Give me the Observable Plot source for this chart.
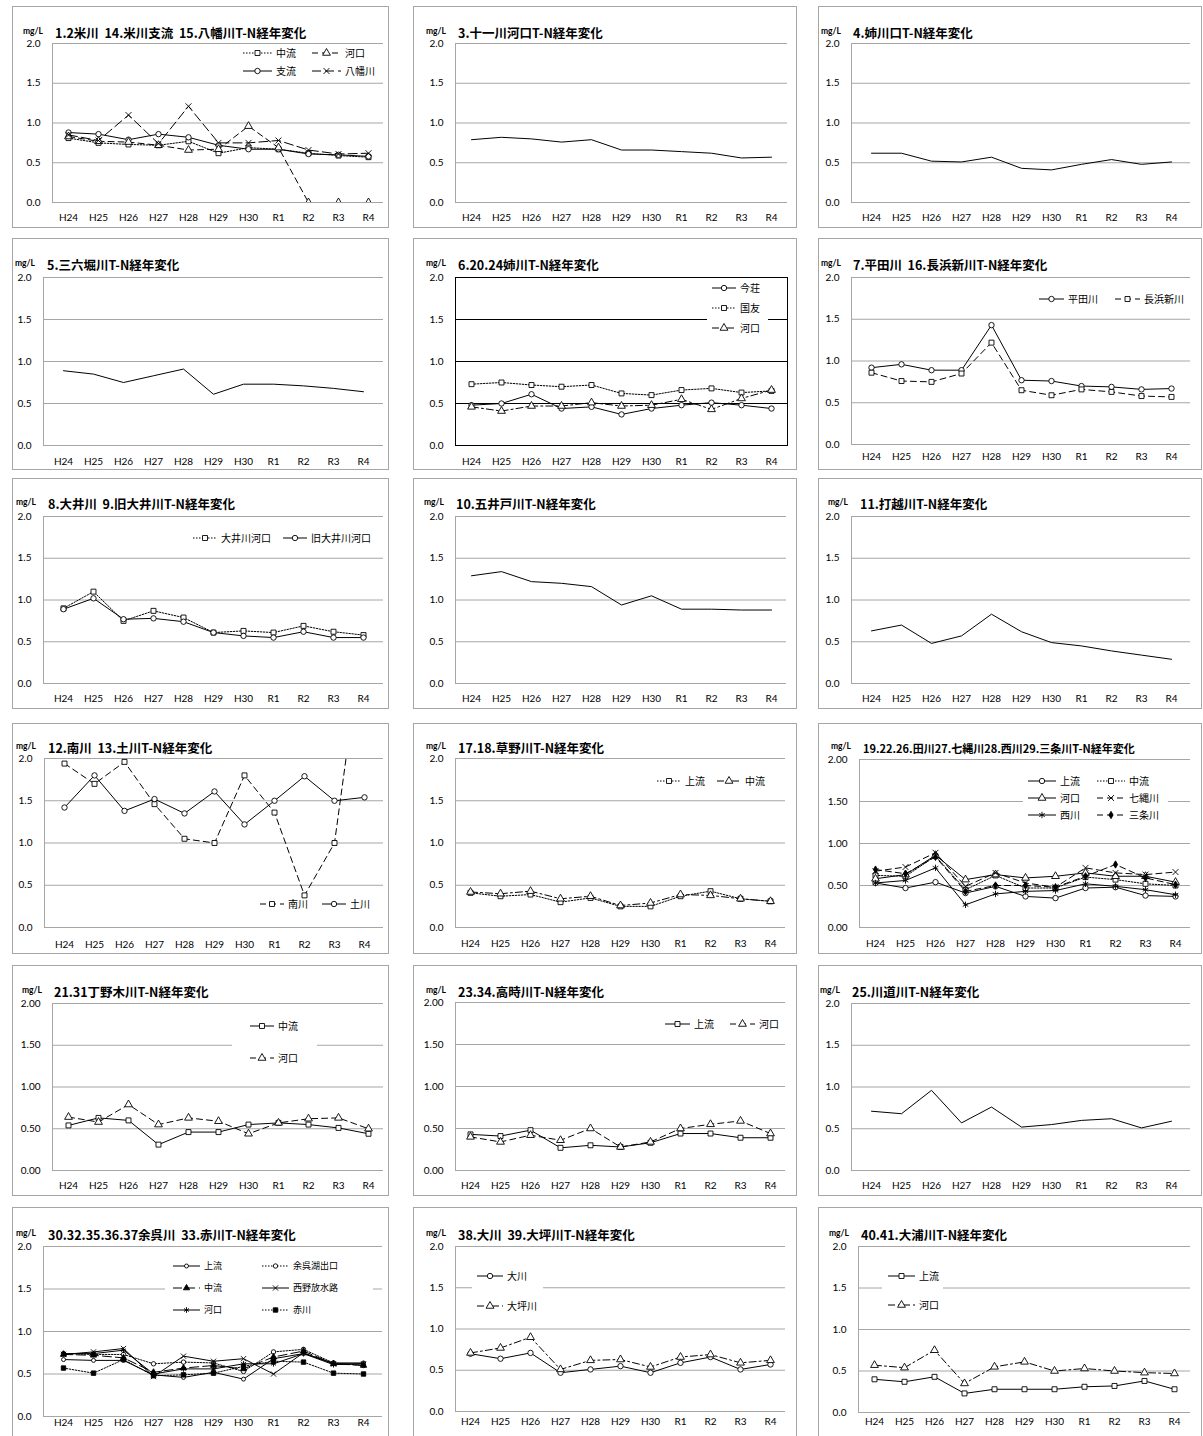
<!DOCTYPE html>
<html><head><meta charset="utf-8">
<script src="https://cdn.jsdelivr.net/npm/d3@7"></script>
<script src="https://cdn.jsdelivr.net/npm/@observablehq/plot@0.6"></script>
<style>
html,body{margin:0;padding:0;background:#fff;}
body{width:1203px;height:1436px;position:relative;overflow:hidden;font-family:Lato,"Noto Sans CJK JP",sans-serif;}
.panel{position:absolute;border:1px solid #a6a6a6;box-sizing:border-box;background:#fff;}
.panel svg{position:absolute;left:0;top:0;}
.title{position:absolute;font-family:"Noto Sans CJK JP",sans-serif;font-weight:700;white-space:pre;line-height:16px;color:#000;}
.unit{position:absolute;font-family:Lato,sans-serif;font-weight:700;font-size:8.5px;line-height:10px;color:#000;}
.lbg{position:absolute;background:#fff;}
.ltxt{position:absolute;font-family:"Noto Sans CJK JP",sans-serif;font-size:10px;line-height:14px;white-space:pre;color:#000;}
.sw{position:absolute;overflow:visible;}
</style></head><body>
<script>
// ---------- data ----------
const years = ["H24","H25","H26","H27","H28","H29","H30","R1","R2","R3","R4"];
const yTickVals = [0, 0.5, 1, 1.5, 2];
const yTickLabels1 = ["0.0","0.5","1.0","1.5","2.0"];
const yTickLabels2 = ["0.00","0.50","1.00","1.50","2.00"];

const yone_churyu  = [0.81,0.75,0.73,0.72,0.77,0.62,0.69,0.67,0.62,0.59,0.57];
const yone_shiryu  = [0.88,0.86,0.79,0.86,0.82,0.72,0.67,0.67,0.61,0.60,0.58];
const yone_kako    = [0.83,0.77,0.76,0.72,0.66,0.67,0.96,0.69,0.00,0.00,0.00];
const yawata       = [0.85,0.78,1.10,0.74,1.21,0.75,0.75,0.78,0.66,0.61,0.62];
const juichi       = [0.79,0.82,0.80,0.76,0.79,0.66,0.66,0.64,0.62,0.56,0.57];
const anegawaguchi = [0.62,0.62,0.52,0.51,0.57,0.43,0.41,0.48,0.54,0.48,0.51];
const sanroku      = [0.89,0.85,0.75,0.83,0.91,0.61,0.73,0.73,0.71,0.68,0.64];
const imajo        = [0.48,0.50,0.61,0.44,0.46,0.37,0.44,0.48,0.51,0.48,0.44];
const kunitomo     = [0.73,0.75,0.72,0.70,0.72,0.62,0.60,0.66,0.68,0.63,0.65];
const ane_kako     = [0.46,0.41,0.47,0.47,0.51,0.47,0.48,0.55,0.43,0.56,0.66];
const hirata       = [0.92,0.96,0.89,0.89,1.43,0.77,0.76,0.70,0.69,0.66,0.67];
const nagahama     = [0.86,0.76,0.75,0.85,1.22,0.65,0.59,0.66,0.63,0.58,0.57];
const oi_kako      = [0.90,1.10,0.75,0.87,0.79,0.61,0.63,0.61,0.69,0.62,0.58];
const kyuoi_kako   = [0.89,1.02,0.77,0.78,0.74,0.61,0.57,0.55,0.62,0.55,0.55];
const goido        = [1.29,1.34,1.22,1.20,1.16,0.94,1.05,0.89,0.89,0.88,0.88];
const uchikoshi    = [0.63,0.70,0.48,0.57,0.83,0.62,0.49,0.45,0.39,0.34,0.29];
const minami       = [1.94,1.70,1.96,1.46,1.05,1.00,1.80,1.36,0.38,1.00,3.60];
const tsuchi       = [1.42,1.80,1.38,1.52,1.35,1.61,1.22,1.50,1.79,1.50,1.54];
const kusano_jo    = [0.41,0.37,0.39,0.30,0.35,0.25,0.25,0.37,0.43,0.34,0.31];
const kusano_chu   = [0.42,0.40,0.43,0.34,0.37,0.26,0.29,0.39,0.38,0.34,0.31];
const tagawa_jo    = [0.53,0.47,0.54,0.41,0.49,0.37,0.35,0.47,0.48,0.38,0.37];
const tagawa_chu   = [0.62,0.61,0.85,0.45,0.62,0.47,0.47,0.60,0.57,0.52,0.50];
const tagawa_kako  = [0.58,0.63,0.86,0.57,0.63,0.59,0.61,0.65,0.61,0.61,0.54];
const shichinawa   = [0.67,0.72,0.89,0.49,0.65,0.53,0.48,0.71,0.65,0.63,0.66];
const nishi        = [0.53,0.56,0.71,0.27,0.40,0.43,0.44,0.52,0.49,0.45,0.39];
const sanjo        = [0.69,0.64,0.84,0.43,0.50,0.50,0.48,0.61,0.75,0.59,0.51];
const chono_chu    = [0.54,0.63,0.60,0.31,0.46,0.46,0.55,0.57,0.55,0.51,0.44];
const chono_kako   = [0.64,0.58,0.79,0.55,0.63,0.59,0.44,0.57,0.62,0.63,0.50];
const takatoki_jo  = [0.43,0.41,0.48,0.27,0.30,0.28,0.33,0.44,0.44,0.39,0.39];
const takatoki_kako= [0.40,0.34,0.42,0.36,0.50,0.28,0.34,0.50,0.55,0.59,0.44];
const kawamichi    = [0.71,0.68,0.96,0.57,0.76,0.52,0.55,0.60,0.62,0.51,0.59];
const yogo_jo      = [0.67,0.66,0.66,0.49,0.46,0.52,0.44,0.68,0.74,0.63,0.63];
const yogo_deguchi = [0.74,0.73,0.73,0.62,0.64,0.63,0.53,0.76,0.79,0.63,0.60];
const yogo_chu     = [0.73,0.72,0.69,0.52,0.57,0.60,0.56,0.70,0.77,0.62,0.60];
const nishino      = [0.73,0.76,0.80,0.47,0.71,0.65,0.68,0.50,0.75,0.62,0.62];
const yogo_kako    = [0.74,0.74,0.78,0.50,0.56,0.56,0.62,0.62,0.74,0.61,0.62];
const akagawa      = [0.57,0.51,0.67,0.48,0.49,0.51,0.59,0.65,0.64,0.51,0.50];
const okawa        = [0.70,0.64,0.71,0.47,0.51,0.55,0.47,0.59,0.66,0.51,0.57];
const otsubo       = [0.71,0.77,0.90,0.51,0.62,0.63,0.54,0.66,0.69,0.59,0.62];
const oura_jo      = [0.40,0.37,0.43,0.23,0.28,0.28,0.28,0.31,0.32,0.38,0.28];
const oura_kako    = [0.57,0.54,0.75,0.35,0.55,0.61,0.50,0.53,0.50,0.48,0.47];

// ---------- styles / layout ----------
const SOLID = null, DOT = "1.5,1.5", DASH = "6,4", LDASH = "9,4", DDOT = "7,3,2,3";
const GRID = "#a6a6a6";
const rowY = [6,238,478,723,965,1207], rowH = [222,232,231,231,231,240];
const colX = [12,413,818], colW = [377,384,384];
const titleY = [33,265,504,748,992,1235];
const RC = 2.7, RS = 2.8, RT = 2.9, RX = 2.8;

const S = (name, values, dash, symbol, r, fill) => ({name, values, dash, symbol, r, fill});

const panels = [
 {row:0,col:0,top:43,bottom:202,lab:217,left:52,right:383,tx:55,title:"1.2米川  14.米川支流  15.八幡川T-N経年変化",
  series:[S("中流",yone_churyu,DOT,"square",RS,"#fff"),S("支流",yone_shiryu,SOLID,"circle",RC,"#fff"),S("河口",yone_kako,DASH,"triangle",RT,"#fff"),S("八幡川",yawata,LDASH,"times",RX,"none")],
  legend:{sw:29,items:[["中流",243,53],["河口",312,53],["支流",243,71],["八幡川",312,71]]}},
 {row:0,col:1,top:43,bottom:202,lab:217,left:455,right:787,tx:458,title:"3.十一川河口T-N経年変化",series:[S("",juichi,SOLID)]},
 {row:0,col:2,top:43,bottom:202,lab:217,left:851,right:1190,tx:853,title:"4.姉川口T-N経年変化",series:[S("",anegawaguchi,SOLID)]},
 {row:1,col:0,top:277,bottom:445,lab:461,left:43,right:383,tx:47,title:"5.三六堀川T-N経年変化",series:[S("",sanroku,SOLID)]},
 {row:1,col:1,top:277,bottom:445,lab:461,left:455,right:787,tx:458,black:true,title:"6.20.24姉川T-N経年変化",
  series:[S("今荘",imajo,SOLID,"circle",RC,"#fff"),S("国友",kunitomo,DOT,"square",RS,"#fff"),S("河口",ane_kako,DDOT,"triangle",RT,"#fff")],
  legend:{sw:24,bg:[707,279,768,338],items:[["今荘",712,288],["国友",712,308],["河口",712,328]]}},
 {row:1,col:2,top:277,bottom:444,lab:456,left:851,right:1190,tx:853,title:"7.平田川  16.長浜新川T-N経年変化",
  series:[S("平田川",hirata,SOLID,"circle",RC,"#fff"),S("長浜新川",nagahama,DASH,"square",RS,"#fff")],
  legend:{sw:25,items:[["平田川",1039,299],["長浜新川",1115,299]]}},
 {row:2,col:0,top:516,bottom:683,lab:698,left:43,right:383,tx:48,title:"8.大井川  9.旧大井川T-N経年変化",
  series:[S("大井川河口",oi_kako,DOT,"square",RS,"#fff"),S("旧大井川河口",kyuoi_kako,SOLID,"circle",RC,"#fff")],
  legend:{sw:24,items:[["大井川河口",193,538],["旧大井川河口",283,538]]}},
 {row:2,col:1,top:516,bottom:683,lab:698,left:455,right:786,tx:456,title:"10.五井戸川T-N経年変化",series:[S("",goido,SOLID)]},
 {row:2,col:2,top:516,bottom:683,lab:698,left:851,right:1190,tx:860,title:"11.打越川T-N経年変化",series:[S("",uchikoshi,SOLID)]},
 {row:3,col:0,top:758,bottom:927,lab:944,left:44,right:383,tx:48,title:"12.南川  13.土川T-N経年変化",
  series:[S("南川",minami,DASH,"square",RS,"#fff"),S("土川",tsuchi,SOLID,"circle",RC,"#fff")],
  legend:{sw:24,items:[["南川",260,904],["土川",322,904]]}},
 {row:3,col:1,top:758,bottom:927,lab:943,left:455,right:785,tx:458,title:"17.18.草野川T-N経年変化",
  series:[S("上流",kusano_jo,DOT,"square",RS,"#fff"),S("中流",kusano_chu,DDOT,"triangle",RT,"#fff")],
  legend:{sw:24,items:[["上流",657,781],["中流",717,781]]}},
 {row:3,col:2,top:759,bottom:927,lab:943,left:859,right:1190,tx:863,dec:2,tsize:11,title:"19.22.26.田川27.七縄川28.西川29.三条川T-N経年変化",
  series:[S("上流",tagawa_jo,SOLID,"circle",RC,"#fff"),S("中流",tagawa_chu,DOT,"square",RS,"#fff"),S("河口",tagawa_kako,SOLID,"triangle",RT,"#fff"),
          S("七縄川",shichinawa,DASH,"times",RX,"none"),S("西川",nishi,SOLID,"asterisk",3.0,"none"),S("三条川",sanjo,DASH,"diamond",2.2,"#000")],
  legend:{sw:28,bg:[1023,772,1168,824],items:[["上流",1028,781],["中流",1097,781],["河口",1028,798],["七縄川",1097,798],["西川",1028,815],["三条川",1097,815]]}},
 {row:4,col:0,top:1003,bottom:1170,lab:1185,left:52,right:383,tx:54,dec:2,title:"21.31丁野木川T-N経年変化",
  series:[S("中流",chono_chu,SOLID,"square",RS,"#fff"),S("河口",chono_kako,DASH,"triangle",RT,"#fff")],
  legend:{sw:24,bg:[232,1016,317,1068],items:[["中流",250,1026],["河口",250,1058]]}},
 {row:4,col:1,top:1002,bottom:1170,lab:1185,left:455,right:785,tx:458,dec:2,title:"23.34.高時川T-N経年変化",
  series:[S("上流",takatoki_jo,SOLID,"square",RS,"#fff"),S("河口",takatoki_kako,DASH,"triangle",RT,"#fff")],
  legend:{sw:25,items:[["上流",665,1024],["河口",730,1024]]}},
 {row:4,col:2,top:1003,bottom:1170,lab:1185,left:851,right:1190,tx:852,title:"25.川道川T-N経年変化",series:[S("",kawamichi,SOLID)]},
 {row:5,col:0,top:1246,bottom:1416,lab:1422,left:43,right:382,tx:48,title:"30.32.35.36.37余呉川  33.赤川T-N経年変化",lsize:9,
  series:[S("上流",yogo_jo,SOLID,"circle",2,"#fff"),S("余呉湖出口",yogo_deguchi,DOT,"circle",2.2,"#fff"),S("中流",yogo_chu,LDASH,"triangle",2.3,"#000"),
          S("西野放水路",nishino,SOLID,"times",2.5,"none"),S("河口",yogo_kako,SOLID,"asterisk",2.7,"none"),S("赤川",akagawa,DOT,"square",2.5,"#000")],
  legend:{sw:27,bg:[165,1257,373,1320],items:[["上流",173,1266],["余呉湖出口",262,1266],["中流",173,1288],["西野放水路",262,1288],["河口",173,1310],["赤川",262,1310]]}},
 {row:5,col:1,top:1246,bottom:1411,lab:1421,left:455,right:785,tx:458,title:"38.大川  39.大坪川T-N経年変化",
  series:[S("大川",okawa,SOLID,"circle",RC,"#fff"),S("大坪川",otsubo,DDOT,"triangle",RT,"#fff")],
  legend:{sw:26,bg:[472,1266,543,1316],items:[["大川",477,1276],["大坪川",477,1306]]}},
 {row:5,col:2,top:1246,bottom:1412,lab:1421,left:858,right:1190,tx:861,title:"40.41.大浦川T-N経年変化",
  series:[S("上流",oura_jo,SOLID,"square",RS,"#fff"),S("河口",oura_kako,DDOT,"triangle",RT,"#fff")],
  legend:{sw:27,bg:[882,1266,943,1315],items:[["上流",888,1276],["河口",888,1305]]}}
];

const symMap = {circle:d3.symbolCircle, square:d3.symbolSquare, triangle:d3.symbolTriangle, times:d3.symbolTimes, asterisk:d3.symbolAsterisk, diamond:d3.symbolDiamond};

function addDiv(cls, css, text){
  const d = document.createElement("div"); d.className = cls;
  Object.assign(d.style, css); if (text != null) d.textContent = text;
  document.body.appendChild(d); return d;
}

panels.forEach(p => {
  const bx = colX[p.col], by = rowY[p.row], bw = colW[p.col], bh = rowH[p.row];
  const box = addDiv("panel", {left:bx+"px", top:by+"px", width:bw+"px", height:bh+"px"});
  const ix = bx+1, iy = by+1, W = bw-2, H = bh-2;
  const labels = p.dec === 2 ? yTickLabels2 : yTickLabels1;
  const lineColor = p.black ? "#000" : GRID;
  const marks = [
    Plot.ruleY(yTickVals, {stroke: lineColor, strokeWidth: 1}),
    p.black ? Plot.frame({stroke:"#000", strokeWidth:1}) : Plot.frame({anchor:"left", stroke: GRID, strokeWidth:1}),
    Plot.axisY({ticks: yTickVals, tickFormat: d => labels[yTickVals.indexOf(d)], tickSize: 0, tickPadding: 12, fontSize: 10}),
    Plot.axisX({tickSize: 0, tickPadding: Math.max(1, p.lab - p.bottom - 4), fontSize: 10})
  ];
  p.series.forEach(s => {
    const rows = years.map((yr, i) => ({x: yr, y: s.values[i]}));
    marks.push(Plot.line(rows, {x:"x", y:"y", stroke:"#000", strokeWidth:1, strokeDasharray: s.dash || undefined, clip:true}));
    if (s.symbol) marks.push(Plot.dot(rows, {x:"x", y:"y", symbol: s.symbol, r: s.r, fill: s.fill, stroke:"#000", strokeWidth:0.9, clip:true}));
  });
  const svg = Plot.plot({
    width: W, height: H,
    marginLeft: p.left - ix, marginRight: ix + W - p.right,
    marginTop: p.top - iy, marginBottom: iy + H - p.bottom,
    x: {type:"point", domain: years, padding: 0.5, label: null},
    y: {domain: [0, 2], label: null},
    style: {fontFamily: "Lato, sans-serif", fontSize: "10px", color: "#000", background: "transparent", overflow: "visible"},
    marks
  });
  box.appendChild(svg);

  const ty = titleY[p.row];
  const ts = p.tsize || 12.5;
  addDiv("title", {left: p.tx+"px", top: (ty-8)+"px", fontSize: ts+"px"}, p.title);
  addDiv("unit", {left: (p.tx-32)+"px", top: (ty-7)+"px"}, "mg/L");

  if (p.legend) {
    const L = p.legend;
    if (L.bg) addDiv("lbg", {left:L.bg[0]+"px", top:L.bg[1]+"px", width:(L.bg[2]-L.bg[0])+"px", height:(L.bg[3]-L.bg[1])+"px"});
    L.items.forEach(([name, x, y]) => {
      const s = p.series.find(t => t.name === name);
      const sv = d3.create("svg").attr("class","sw").attr("width", L.sw).attr("height", 12)
        .style("left", x+"px").style("top", (y-6)+"px");
      const ln = sv.append("line").attr("x1",0).attr("x2",L.sw).attr("y1",6).attr("y2",6).attr("stroke","#000").attr("stroke-width",1);
      if (s.dash) ln.attr("stroke-dasharray", s.dash);
      if (s.symbol) sv.append("path").attr("transform", `translate(${L.sw/2},6)`)
        .attr("d", d3.symbol(symMap[s.symbol], s.r*s.r*Math.PI)())
        .attr("fill", s.fill).attr("stroke","#000").attr("stroke-width",0.9);
      document.body.appendChild(sv.node());
      addDiv("ltxt", {left:(x+L.sw+4)+"px", top:(y-7)+"px", fontSize:(p.lsize||10)+"px"}, name);
    });
  }
});
</script>
</body></html>
